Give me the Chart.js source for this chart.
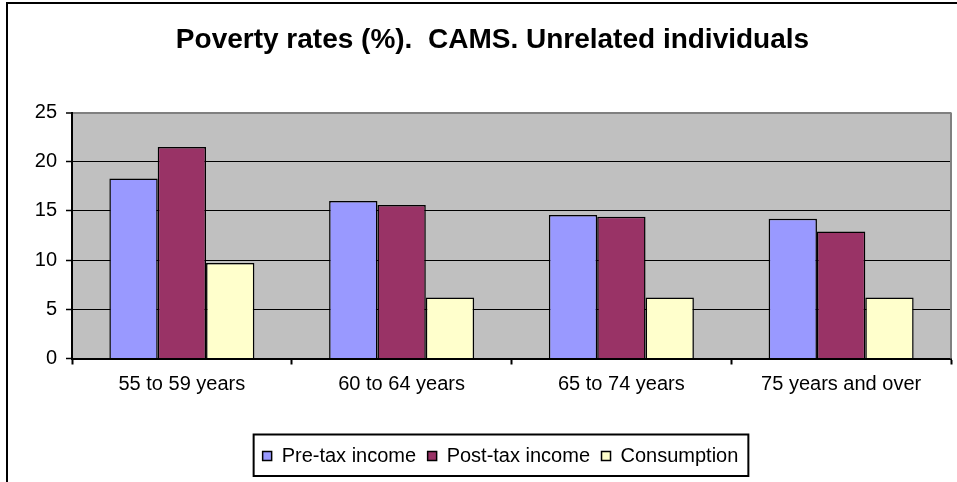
<!DOCTYPE html>
<html>
<head>
<meta charset="utf-8">
<script src="https://cdn.jsdelivr.net/npm/chart.js@4"></script>
<style>
    html, body { margin: 0; padding: 0; background: #fff; }
    #box { width: 957px; height: 482px; }
</style>
</head>
<body>
<div id="box"><canvas id="povertyChart"></canvas></div>
<script>
// ----------------------------------------
// Data
// ----------------------------------------
var categories = ['55 to 59 years', '60 to 64 years', '65 to 74 years', '75 years and over'];
var preTax = [18.3, 16.0, 14.6, 14.2];
var postTax = [21.5, 15.6, 14.4, 12.9];
var consumption = [9.7, 6.2, 6.2, 6.2];
var yTicks = [0, 5, 10, 15, 20, 25];

var FONT = '"Liberation Sans", Arial, sans-serif';

// Grey plot background, frame and outer border
var framePlugin = {
    id: 'frame',
    afterLayout: function (chart) {
        // nudge legend and title to the right, like the original sheet
        var lg = chart.legend;
        lg.left += 21;
        lg.right += 21;
        (lg.legendHitBoxes || []).forEach(function (h) { h.left += 21; });
        var tb = chart.titleBlock;
        if (tb) {
            tb.left += 13;
            tb.right += 13;
        }
    },
    beforeDraw: function (chart) {
        var ctx = chart.ctx;
        var a = chart.chartArea;
        ctx.save();
        ctx.fillStyle = '#fff';
        ctx.fillRect(0, 0, chart.width, chart.height);
        ctx.fillStyle = '#C0C0C0';
        ctx.fillRect(a.left, a.top, a.right - a.left, a.bottom - a.top);
        ctx.restore();
    },
    afterDraw: function (chart) {
        var ctx = chart.ctx;
        var a = chart.chartArea;
        ctx.save();
        // right edge of plot
        ctx.strokeStyle = '#808080';
        ctx.lineWidth = 2;
        ctx.beginPath();
        ctx.moveTo(a.right, a.top);
        ctx.lineTo(a.right, a.bottom);
        ctx.stroke();
        // outer chart border
        ctx.strokeStyle = '#000';
        ctx.beginPath();
        ctx.moveTo(7, chart.height);
        ctx.lineTo(7, 3);
        ctx.lineTo(chart.width, 3);
        ctx.stroke();
        // box around the legend
        var hb = chart.legend.legendHitBoxes;
        if (hb && hb.length) {
            var last = hb[hb.length - 1];
            var left = hb[0].left - 9;
            var right = last.left + last.width + 10;
            ctx.lineWidth = 2;
            ctx.strokeRect(left, chart.legend.top, right - left, chart.legend.bottom - chart.legend.top);
        }
        ctx.restore();
    }
};

var ctx = document.getElementById('povertyChart').getContext('2d');
var config = {
    type: 'bar',
    data: {
        labels: categories,
        datasets: [{
            label: 'Pre-tax income',
            data: preTax,
            backgroundColor: '#9999FF'
        }, {
            label: 'Post-tax income',
            data: postTax,
            backgroundColor: '#993366'
        }, {
            label: 'Consumption',
            data: consumption,
            backgroundColor: '#FFFFCC'
        }]
    },
    options: {
        responsive: true,
        maintainAspectRatio: false,
        animation: false,
        layout: { padding: { left: 8, right: 6, top: 0, bottom: 6 } },
        datasets: {
            bar: {
                borderColor: '#000',
                borderWidth: 1.5,
                categoryPercentage: 0.66,
                barPercentage: 1.0
            }
        },
        plugins: {
            title: {
                display: true,
                text: 'Poverty rates (%).  CAMS. Unrelated individuals',
                color: '#000',
                font: { family: FONT, size: 28, weight: 'bold' },
                padding: { top: 23, bottom: 56 }
            },
            legend: {
                position: 'bottom',
                labels: {
                    color: '#000',
                    font: { family: FONT, size: 20 },
                    boxWidth: 9,
                    boxHeight: 9,
                    padding: 11.5,
                    generateLabels: function (chart) {
                        return chart.data.datasets.map(function (ds, i) {
                            return {
                                text: ds.label,
                                fillStyle: ds.backgroundColor,
                                strokeStyle: '#000',
                                lineWidth: 1.5,
                                datasetIndex: i,
                                fontColor: '#000'
                            };
                        });
                    }
                }
            },
            tooltip: { enabled: false }
        },
        scales: {
            x: {
                grid: {
                    display: true,
                    offset: true,
                    drawOnChartArea: false,
                    drawTicks: true,
                    tickLength: 6,
                    tickColor: '#000',
                    tickWidth: 2
                },
                border: { color: '#000', width: 2 },
                ticks: {
                    color: '#000',
                    font: { family: FONT, size: 20 },
                    padding: 8,
                    maxRotation: 0
                },
                afterFit: function (scale) { scale.height = 76; }
            },
            y: {
                min: 0,
                max: 25,
                afterBuildTicks: function (scale) {
                    scale.ticks = yTicks.map(function (v) { return { value: v }; });
                },
                grid: {
                    color: function (c) { return c.tick && c.tick.value === 25 ? '#808080' : '#000'; },
                    lineWidth: function (c) { return c.tick && c.tick.value === 25 ? 2 : 1; },
                    tickColor: '#000',
                    tickLength: 6,
                    tickWidth: 1.5
                },
                border: { color: '#000', width: 2 },
                ticks: {
                    color: '#000',
                    font: { family: FONT, size: 20 },
                    padding: 9
                },
                afterFit: function (scale) { scale.width = 64; }
            }
        }
    },
    plugins: [framePlugin]
};
var chart = new Chart(ctx, config);
</script>
</body>
</html>
